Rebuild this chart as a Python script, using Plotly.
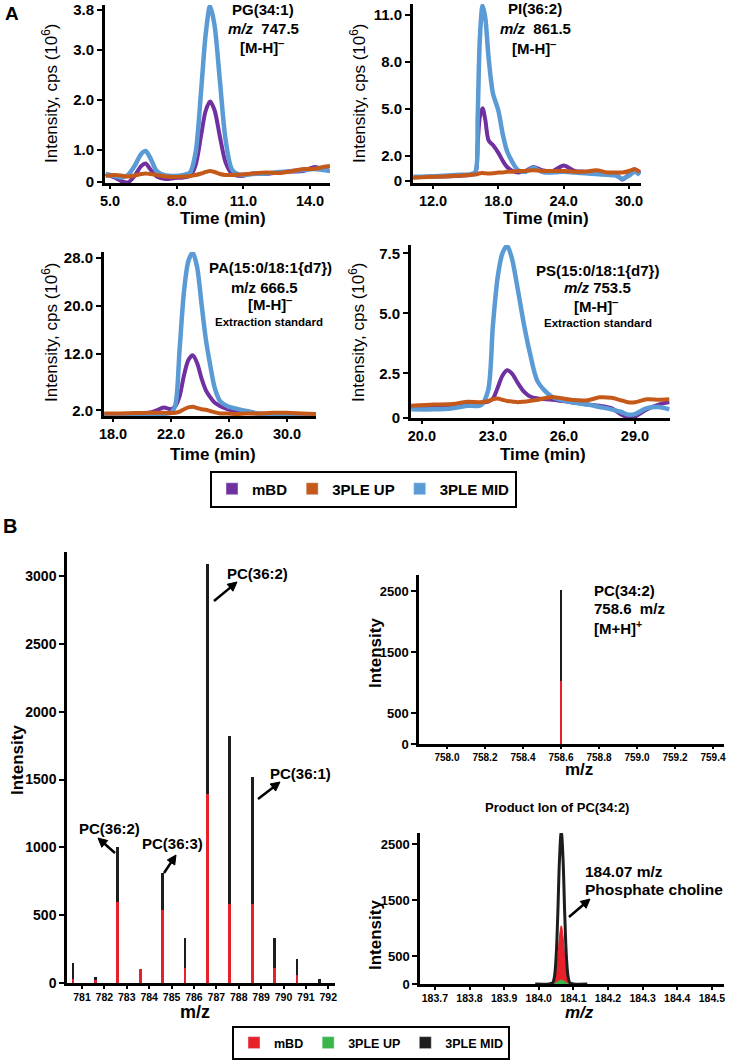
import math
import plotly.graph_objects as go

W, H = 730, 1062
def px(x): return x / W
def py(y): return 1 - y / H

PURPLE = '#7030A0'
ORANGE = '#C5591A'
BLUE = '#5B9BD5'
RED = '#E8202A'
GREEN = '#3AB54A'
BLACK = '#1E1C1D'
FONT = 'Liberation Sans, Arial, sans-serif'

# ---------------- Panel A data (intensity, cps x10^6) ----------------
pg_time = [4.8, 5.2, 5.5, 5.8, 6.1, 6.4, 6.6, 6.8, 7.1, 7.5, 7.9, 8.3, 8.6, 8.85, 9.1, 9.3, 9.5, 9.7,
           9.95, 10.2, 10.5, 10.9, 11.4, 12.0, 12.6, 13.2, 13.7, 14.2, 14.6, 14.9]
pg_mbd = [0.52, 0.45, 0.38, 0.35, 0.48, 0.68, 0.73, 0.62, 0.47, 0.42, 0.44, 0.45, 0.48, 0.70, 1.30, 1.78,
          1.97, 1.80, 1.25, 0.75, 0.52, 0.48, 0.53, 0.52, 0.55, 0.57, 0.58, 0.66, 0.62, 0.58]
pg_up = [0.48, 0.50, 0.49, 0.47, 0.49, 0.52, 0.53, 0.52, 0.50, 0.47, 0.46, 0.47, 0.48, 0.50, 0.53, 0.56,
         0.58, 0.56, 0.52, 0.50, 0.50, 0.51, 0.53, 0.55, 0.54, 0.58, 0.62, 0.62, 0.66, 0.68]
pg_mid = [0.52, 0.48, 0.45, 0.50, 0.68, 0.92, 0.98, 0.85, 0.58, 0.49, 0.48, 0.50, 0.55, 0.95, 2.20, 3.30,
          3.88, 3.50, 2.35, 1.20, 0.60, 0.50, 0.52, 0.53, 0.56, 0.58, 0.60, 0.62, 0.60, 0.58]

pi_time = [10.2, 11.5, 13.0, 14.5, 15.5, 15.9, 16.1, 16.3, 16.55, 16.8, 17.1, 17.5, 18.0, 18.4, 18.8, 19.3,
           19.8, 20.5, 21.2, 22.0, 23.0, 24.0, 25.0, 26.0, 27.0, 28.0, 28.8, 29.4, 30.0, 30.5, 31.0]
pi_mbd = [0.65, 0.68, 0.70, 0.75, 0.80, 0.95, 2.80, 4.50, 5.05, 4.30, 3.00, 2.70, 2.20, 1.70, 1.30, 1.05,
          0.95, 1.05, 1.30, 1.10, 1.05, 1.40, 1.05, 1.00, 0.95, 0.90, 0.85, 0.50, 0.85, 1.15, 0.90]
pi_up = [0.62, 0.66, 0.70, 0.75, 0.80, 0.82, 0.85, 0.90, 0.92, 0.90, 0.88, 0.90, 0.95, 0.95, 1.00, 1.00,
         1.05, 1.05, 1.10, 1.05, 1.05, 1.05, 1.00, 1.00, 1.10, 0.95, 0.95, 0.95, 1.05, 1.15, 1.00]
pi_mid = [0.68, 0.70, 0.75, 0.80, 0.85, 1.00, 4.50, 9.50, 11.6, 10.8, 8.30, 6.00, 4.90, 3.40, 2.30, 1.60,
          1.10, 1.00, 1.25, 1.00, 0.95, 1.00, 0.95, 0.90, 0.85, 0.80, 0.75, 0.55, 0.75, 1.00, 0.80]

pa_time = [17.4, 18.5, 19.5, 20.5, 21.0, 21.5, 22.0, 22.3, 22.6, 22.9, 23.2, 23.5, 23.8, 24.1, 24.4, 24.7,
           25.0, 25.4, 25.9, 26.5, 27.2, 28.0, 29.0, 30.0, 31.0, 32.0]
pa_mbd = [2.0, 2.0, 2.05, 2.2, 2.6, 3.1, 2.8, 3.3, 5.0, 8.5, 11.0, 11.8, 10.5, 8.0, 6.0, 4.8,
          3.9, 3.3, 2.8, 2.4, 2.2, 2.1, 1.9, 2.0, 2.0, 1.95]
pa_up = [2.1, 2.1, 2.15, 2.2, 2.2, 2.2, 2.15, 2.2, 2.4, 2.8, 3.1, 3.2, 3.0, 2.8, 2.7, 2.5,
         2.3, 2.1, 2.1, 2.0, 2.1, 2.1, 2.2, 2.2, 2.1, 2.0]
pa_mid = [1.9, 1.9, 1.95, 2.0, 2.0, 2.05, 2.2, 3.5, 13.0, 22.5, 27.5, 28.9, 26.5, 20.5, 14.5, 10.2,
          6.5, 4.1, 3.3, 2.9, 2.5, 2.1, 2.0, 2.0, 1.95, 1.95]

ps_time = [19.55, 20.5, 21.3, 21.9, 22.5, 22.8, 23.0, 23.2, 23.4, 23.6, 23.8, 24.05, 24.3, 24.55, 24.9,
           25.5, 26.3, 27.0, 27.5, 28.0, 28.4, 28.7, 29.0, 29.5, 30.0, 30.45]
ps_mbd = [1.10, 1.10, 1.15, 1.20, 1.28, 1.32, 1.45, 1.90, 2.40, 2.63, 2.50, 2.10, 1.75, 1.55, 1.45,
          1.40, 1.30, 1.20, 1.15, 1.05, 0.80, 0.66, 0.70, 1.00, 1.20, 1.30]
ps_up = [1.15, 1.20, 1.22, 1.32, 1.30, 1.35, 1.42, 1.45, 1.40, 1.35, 1.33, 1.30, 1.32, 1.35, 1.40,
         1.52, 1.40, 1.38, 1.50, 1.48, 1.38, 1.30, 1.30, 1.42, 1.40, 1.42]
ps_mid = [1.00, 1.00, 1.05, 1.15, 1.18, 1.80, 4.50, 6.50, 7.50, 7.82, 7.30, 6.00, 4.60, 3.40, 2.14,
          1.52, 1.30, 1.20, 1.10, 1.00, 0.90, 0.78, 0.80, 1.05, 1.10, 1.00]

# ---------------- Panel B data ----------------
ms_mz = [780.6, 781.6, 782.6, 783.6, 784.6, 785.6, 786.6, 787.6, 788.6, 789.6, 790.6, 791.6]
ms_mid = [150, 45, 1000, 100, 810, 330, 3090, 1820, 1520, 330, 175, 30]
ms_mbd = [30, 20, 600, 100, 540, 110, 1390, 580, 580, 110, 60, 0]

pc_mz = [758.6]
pc_mid = [2520]
pc_mbd = [1040]

ion_mz = [183.99, 184.03, 184.04, 184.045, 184.05, 184.055, 184.06, 184.065, 184.07, 184.075,
          184.08, 184.085, 184.09, 184.10, 184.14]
ion_mid = [0, 2, 21, 120, 470, 1250, 2245, 2730, 2245, 1250, 470, 120, 21, 2, 0]
ion_mbd = [0, 1, 8, 46, 180, 475, 855, 1040, 855, 475, 180, 46, 8, 1, 0]
ion_up = [0, 0, 1, 5, 18, 40, 60, 70, 60, 40, 18, 5, 1, 0, 0]

series_names = ['mBD', '3PLE UP', '3PLE MID']

fig = go.Figure()

# ---- chromatograms
chrom = [
    (pg_time, pg_mbd, pg_up, pg_mid, 'x', 'y'),
    (pi_time, pi_mbd, pi_up, pi_mid, 'x2', 'y2'),
    (pa_time, pa_mbd, pa_up, pa_mid, 'x3', 'y3'),
    (ps_time, ps_mbd, ps_up, ps_mid, 'x4', 'y4'),
]
for t, a, b, c, xa, ya in chrom:
    for vals, col, w in [(a, PURPLE, 4), (c, BLUE, 4.5), (b, ORANGE, 4)]:
        fig.add_trace(go.Scatter(x=t, y=vals, mode='lines', line=dict(color=col, width=w, shape='spline', smoothing=0.8),
                                 xaxis=xa, yaxis=ya, showlegend=False, hoverinfo='skip'))

# ---- MS spectra bars
fig.add_trace(go.Bar(x=ms_mz, y=ms_mid, width=0.12, marker=dict(color=BLACK, line=dict(width=0)),
                     xaxis='x5', yaxis='y5', showlegend=False))
fig.add_trace(go.Bar(x=ms_mz, y=ms_mbd, width=0.12, marker=dict(color=RED, line=dict(width=0)),
                     xaxis='x5', yaxis='y5', showlegend=False))
fig.add_trace(go.Bar(x=pc_mz, y=pc_mid, width=0.014, marker=dict(color=BLACK, line=dict(width=0)),
                     xaxis='x6', yaxis='y6', showlegend=False))
fig.add_trace(go.Bar(x=pc_mz, y=pc_mbd, width=0.014, marker=dict(color=RED, line=dict(width=0)),
                     xaxis='x6', yaxis='y6', showlegend=False))

# ---- product ion profile
fig.add_trace(go.Scatter(x=ion_mz, y=ion_mbd, mode='lines', fill='tozeroy', fillcolor=RED,
                         line=dict(color=RED, width=1, shape='spline'), xaxis='x7', yaxis='y7', showlegend=False))
fig.add_trace(go.Scatter(x=ion_mz, y=ion_up, mode='lines', fill='tozeroy', fillcolor=GREEN,
                         line=dict(color=GREEN, width=1, shape='spline'), xaxis='x7', yaxis='y7', showlegend=False))
fig.add_trace(go.Scatter(x=ion_mz, y=ion_mid, mode='lines',
                         line=dict(color=BLACK, width=3, shape='spline'), xaxis='x7', yaxis='y7', showlegend=False))

# ---- legend keys
for name, col in zip(series_names, [PURPLE, ORANGE, BLUE]):
    fig.add_trace(go.Bar(x=[None], y=[None], name=name, marker=dict(color=col), legend='legend',
                         xaxis='x', yaxis='y', showlegend=True))
for name, col in zip(series_names, [RED, GREEN, BLACK]):
    fig.add_trace(go.Bar(x=[None], y=[None], name=name, marker=dict(color=col), legend='legend2',
                         xaxis='x5', yaxis='y5', showlegend=True))


def axis(x0, x1, rng, tickvals, size, lw, anchor, ticktext=None, tlen=5, fmt=None, horizontal=True):
    d = dict(domain=[px(x0), px(x1)] if horizontal else [py(x1), py(x0)],
             range=rng, tickvals=tickvals, showline=True, linecolor='black', linewidth=lw,
             ticks='outside', ticklen=tlen, tickwidth=2, tickcolor='black', showgrid=False, zeroline=False,
             tickfont=dict(family=FONT, size=size, color='black', weight='bold'), anchor=anchor, fixedrange=True)
    if ticktext is not None:
        d['ticktext'] = ticktext
    if fmt:
        d['tickformat'] = fmt
    return d

layout = dict(
    width=W, height=H, margin=dict(l=0, r=0, t=0, b=0, autoexpand=False),
    paper_bgcolor='white', plot_bgcolor='white', barmode='overlay', bargap=0,
    showlegend=True,
    xaxis=axis(105, 330, [4.77, 14.9], [5, 8, 11, 14], 14.5, 3, 'y', fmt='.1f', tlen=3),
    yaxis=axis(5, 183, [0.34, 3.9], [0.36, 1, 2, 3, 3.8], 15, 3, 'x',
               ticktext=['0', '1.0', '2.0', '3.0', '3.8'], horizontal=False),
    xaxis2=axis(413, 641, [10.16, 31.1], [12, 18, 24, 30], 14.5, 3, 'y2', fmt='.1f', tlen=3),
    yaxis2=axis(4, 183, [0.28, 11.7], [0.4, 2, 5, 8, 11], 15, 3, 'x2',
                ticktext=['0', '2.0', '5.0', '8.0', '11.0'], horizontal=False),
    xaxis3=axis(104, 316, [17.38, 32.0], [18, 22, 26, 30], 14.5, 3, 'y3', fmt='.1f', tlen=3),
    yaxis3=axis(252, 416, [1.67, 29.0], [2.6, 12, 20, 28], 15, 3, 'x3',
                ticktext=['2.0', '12.0', '20.0', '28.0'], horizontal=False),
    xaxis4=axis(411, 670, [19.54, 30.48], [20, 23, 26, 29], 14.5, 3, 'y4', fmt='.1f', tlen=3),
    yaxis4=axis(245, 418, [0.64, 7.85], [0.66, 2.5, 5, 7.5], 15, 3, 'x4',
                ticktext=['0', '2.5', '5.0', '7.5'], horizontal=False),
    xaxis5=axis(67, 335, [780.33, 792.3], list(range(781, 793)), 10.5, 2.5, 'y5', tlen=3),
    yaxis5=axis(552, 983, [0, 3177], [0, 500, 1000, 1500, 2000, 2500, 3000], 14, 2.5, 'x5',
                horizontal=False),
    xaxis6=axis(419, 724, [757.853, 759.458], [758.0, 758.2, 758.4, 758.6, 758.8, 759.0, 759.2, 759.4],
                10, 2.5, 'y6', tlen=2, fmt='.1f'),
    yaxis6=axis(575, 744, [0, 2770], [0, 500, 1500, 2500], 13, 2.5, 'x6', horizontal=False),
    xaxis7=axis(420, 724, [183.657, 184.535], [183.7, 183.8, 183.9, 184.0, 184.1, 184.2, 184.3, 184.4, 184.5],
                10.5, 2.5, 'y7', tlen=3, fmt='.1f'),
    yaxis7=axis(833, 984, [0, 2696], [0, 500, 1500, 2500], 13, 2.5, 'x7', horizontal=False),
    legend=dict(x=px(210), y=py(489), xanchor='left', yanchor='middle', orientation='h',
                bordercolor='black', borderwidth=2, bgcolor='white',
                font=dict(family=FONT, size=15, color='black', weight='bold'), itemclick=False, itemdoubleclick=False),
    legend2=dict(x=px(232), y=py(1043), xanchor='left', yanchor='middle', orientation='h',
                 bordercolor='black', borderwidth=2, bgcolor='white',
                 font=dict(family=FONT, size=12.5, color='black', weight='bold'), itemclick=False, itemdoubleclick=False),
)
fig.update_layout(**layout)

anns = []
shapes = []
def note(text, x, y, size, bold=True, xanchor='center', angle=0):
    t = f'<b>{text}</b>' if bold else text
    anns.append(dict(text=t, x=px(x), y=py(y), xref='paper', yref='paper', xanchor=xanchor, yanchor='middle',
                     showarrow=False, textangle=angle,
                     font=dict(family=FONT, size=size, color='black')))

def arrow(tx, ty, hx, hy, head=9, half=4.5):
    # arrow drawn as a line plus a filled triangular head (pixel positions of the layout)
    dx, dy = hx - tx, hy - ty
    L = math.hypot(dx, dy)
    ux, uy = dx / L, dy / L
    bx, by = hx - ux * head, hy - uy * head
    nx, ny = -uy, ux
    shapes.append(dict(type='line', xref='paper', yref='paper', x0=px(tx), y0=py(ty), x1=px(bx + ux), y1=py(by + uy),
                       line=dict(color='black', width=2.5)))
    pts = [(hx, hy), (bx + nx * half, by + ny * half), (bx - nx * half, by - ny * half)]
    path = 'M ' + ' L '.join(f'{px(a):.5f},{py(b):.5f}' for a, b in pts) + ' Z'
    shapes.append(dict(type='path', xref='paper', yref='paper', path=path, fillcolor='black',
                       line=dict(color='black', width=1)))

# panel letters
note('A', 12, 13, 19)
note('B', 10, 526, 20)

# panel A annotations
note('PG(34:1)', 263, 10, 15)
note('<i>m/z</i>  747.5', 263, 28, 15)
note('[M-H]<sup>\u2012</sup>', 262, 46, 15)
note('PI(36:2)', 535, 9, 15)
note('<i>m/z</i>  861.5', 535, 29, 15)
note('[M-H]<sup>\u2012</sup>', 534, 47, 15)
note('PA(15:0/18:1{d7})', 270, 268, 15)
note('m/z 666.5', 264, 287, 15)
note('[M-H]<sup>\u2012</sup>', 270, 303, 15)
note('Extraction standard', 269, 322, 11.5)
note('PS(15:0/18:1{d7})', 597, 270, 15)
note('<i>m/z</i> 753.5', 597, 287, 15)
note('[M-H]<sup>\u2012</sup>', 596, 305, 15)
note('Extraction standard', 598, 323, 11.5)

ytitle = 'Intensity, cps (10<sup>6</sup>)'
note(ytitle, 50, 93, 17, bold=False, angle=-90)
note(ytitle, 358, 93, 17, bold=False, angle=-90)
note(ytitle, 50, 332, 17, bold=False, angle=-90)
note(ytitle, 357, 332, 17, bold=False, angle=-90)
note('Time (min)', 223, 218, 17)
note('Time (min)', 546, 218, 17)
note('Time (min)', 213, 454, 17)
note('Time (min)', 543, 454, 17)

# panel B annotations
note('PC(36:2)', 257, 573, 15)
arrow(214, 601, 237, 582)
note('PC(36:1)', 300, 773, 15)
arrow(258, 799, 280, 782)
note('PC(36:2)', 109, 828, 15)
arrow(115, 853, 98, 838)
note('PC(36:3)', 172, 843, 15)
arrow(164, 873, 176, 855)

note('PC(34:2)', 592, 590, 15, xanchor='left')
note('758.6  m/z', 592, 608, 15, xanchor='left')
note('[M+H]<sup>+</sup>', 592, 627, 15, xanchor='left')

note('Product Ion of PC(34:2)', 557, 807, 13)
note('184.07 m/z', 583, 871, 15.5, xanchor='left')
note('Phosphate choline', 583, 889, 15.5, xanchor='left')
arrow(569, 917, 590, 899)

note('Intensity', 17, 760, 17, angle=-90)
note('Intensity', 375, 653, 17, angle=-90)
note('Intensity', 375, 935, 17, angle=-90)
note('m/z', 195, 1012, 18)
note('m/z', 579, 769, 17)
note('<i>m/z</i>', 579, 1012, 17)

fig.update_layout(annotations=anns, shapes=shapes)
fig.write_html('out.html', config={'displayModeBar': False},
               post_script="document.body.style.margin='0px'; document.body.style.overflow='hidden';")
